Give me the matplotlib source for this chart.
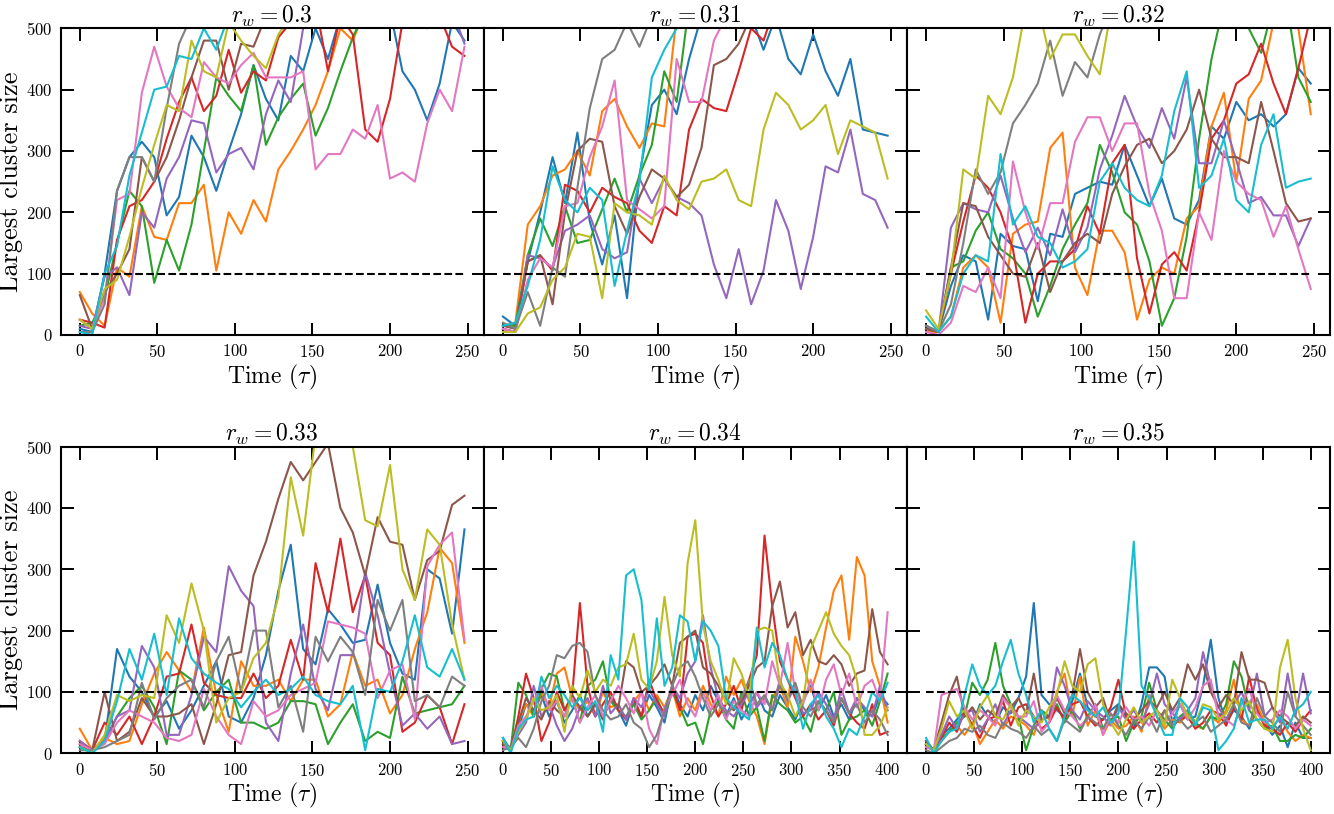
import numpy as np
import matplotlib
matplotlib.use('Agg')
import matplotlib.pyplot as plt
from matplotlib.ticker import MultipleLocator

plt.rcParams['font.family'] = 'serif'
plt.rcParams['font.serif'] = ['cmr10']
plt.rcParams['mathtext.fontset'] = 'cm'
plt.rcParams['axes.formatter.use_mathtext'] = True

# time grids (tau) for the short (250) and long (400) runs
t_short = np.arange(0, 249, 8)
t_long = np.arange(0, 401, 8)

# largest cluster size, 10 runs per r_w (clipped at 500 by the axes)
p030 = [
    [10, 5, 100, 235, 290, 315, 290, 195, 225, 325, 290, 235, 300, 360, 440, 385, 350, 455, 430, 500, 450, 520, 540, 560, 540, 530, 430, 400, 350, 410, 510, 480],
    [70, 35, 15, 110, 95, 210, 160, 155, 215, 215, 245, 105, 200, 165, 220, 185, 270, 300, 335, 375, 430, 500, 480, 530, 550, 560, 540, 550, 560, 540, 550, 560],
    [15, 20, 60, 150, 235, 210, 85, 155, 105, 180, 300, 420, 390, 365, 440, 310, 355, 385, 410, 325, 370, 430, 485, 530, 550, 560, 540, 560, 550, 560, 570, 560],
    [25, 20, 12, 155, 210, 220, 250, 320, 380, 420, 365, 390, 465, 395, 430, 415, 485, 510, 530, 540, 430, 520, 490, 335, 315, 385, 510, 530, 500, 520, 470, 455],
    [15, 10, 95, 110, 65, 200, 175, 255, 290, 350, 345, 265, 295, 305, 270, 360, 415, 380, 500, 530, 540, 550, 560, 540, 550, 560, 540, 550, 560, 540, 530, 475],
    [65, 10, 70, 100, 140, 290, 250, 290, 350, 420, 480, 480, 400, 475, 470, 520, 540, 550, 560, 540, 550, 560, 540, 550, 560, 540, 550, 560, 540, 550, 560, 540],
    [25, 10, 60, 220, 230, 395, 470, 405, 370, 355, 445, 420, 410, 440, 460, 420, 420, 420, 430, 270, 295, 295, 335, 320, 375, 255, 265, 250, 345, 400, 365, 470],
    [5, 5, 50, 235, 290, 290, 250, 370, 475, 520, 530, 540, 550, 560, 540, 550, 560, 540, 550, 560, 540, 550, 560, 540, 550, 560, 540, 550, 560, 540, 550, 560],
    [25, 10, 75, 90, 160, 240, 310, 375, 365, 480, 430, 420, 510, 480, 455, 435, 490, 520, 540, 550, 560, 540, 550, 560, 540, 550, 560, 540, 550, 560, 540, 550],
    [5, 0, 100, 145, 260, 330, 400, 405, 455, 450, 500, 465, 520, 540, 550, 560, 540, 550, 560, 540, 550, 560, 540, 550, 560, 540, 550, 560, 540, 550, 560, 540],
]
p031 = [
    [30, 15, 120, 200, 290, 215, 330, 185, 115, 195, 60, 260, 375, 400, 360, 450, 520, 540, 550, 540, 520, 465, 520, 450, 425, 490, 430, 390, 450, 335, 330, 325],
    [15, 20, 180, 210, 260, 270, 300, 260, 365, 385, 340, 305, 345, 340, 520, 540, 550, 560, 540, 550, 560, 540, 550, 560, 540, 550, 560, 540, 550, 560, 540, 550],
    [15, 15, 130, 190, 145, 210, 150, 155, 205, 255, 200, 260, 310, 430, 380, 540, 550, 560, 540, 550, 560, 540, 550, 560, 540, 550, 560, 540, 550, 560, 540, 550],
    [10, 5, 120, 130, 105, 245, 235, 200, 240, 225, 215, 170, 150, 210, 195, 335, 385, 370, 365, 430, 500, 480, 540, 550, 560, 540, 550, 560, 540, 550, 560, 540],
    [10, 5, 130, 125, 110, 170, 180, 195, 140, 125, 135, 255, 215, 255, 225, 215, 195, 115, 60, 140, 50, 105, 220, 170, 75, 160, 275, 265, 335, 230, 220, 175],
    [15, 10, 120, 130, 50, 200, 300, 320, 315, 210, 165, 225, 270, 255, 225, 245, 305, 440, 450, 475, 520, 540, 550, 560, 540, 550, 560, 540, 550, 560, 540, 550],
    [10, 5, 90, 125, 110, 210, 215, 290, 340, 415, 220, 205, 190, 210, 450, 380, 380, 480, 520, 540, 550, 560, 540, 550, 560, 540, 550, 560, 540, 550, 560, 540],
    [20, 10, 70, 15, 110, 95, 240, 370, 450, 465, 510, 470, 520, 540, 550, 560, 540, 550, 560, 540, 550, 560, 540, 550, 560, 540, 550, 560, 540, 550, 560, 540],
    [5, 5, 35, 45, 90, 110, 165, 160, 60, 215, 200, 195, 180, 260, 220, 205, 250, 255, 270, 220, 210, 335, 395, 375, 335, 350, 375, 295, 350, 340, 330, 255],
    [15, 20, 80, 155, 275, 220, 200, 240, 220, 80, 170, 250, 420, 465, 500, 540, 550, 560, 540, 550, 560, 540, 550, 560, 540, 550, 560, 540, 550, 560, 540, 550],
]
p032 = [
    [10, 5, 80, 130, 120, 25, 165, 145, 140, 55, 165, 160, 230, 240, 250, 245, 310, 260, 210, 255, 190, 180, 220, 340, 320, 380, 350, 360, 340, 360, 435, 410],
    [5, 5, 30, 110, 130, 110, 20, 165, 180, 185, 305, 330, 110, 65, 170, 170, 135, 25, 90, 110, 100, 190, 210, 340, 395, 250, 385, 415, 510, 540, 500, 360],
    [15, 5, 110, 120, 170, 200, 140, 125, 100, 30, 80, 140, 180, 215, 310, 265, 200, 180, 120, 15, 60, 160, 320, 450, 540, 550, 500, 460, 540, 550, 420, 380],
    [10, 5, 100, 185, 260, 240, 200, 140, 20, 100, 120, 120, 140, 210, 165, 280, 310, 125, 35, 115, 135, 105, 200, 320, 350, 410, 425, 475, 410, 360, 435, 520],
    [15, 5, 175, 215, 205, 200, 260, 190, 135, 175, 130, 205, 135, 175, 270, 325, 390, 340, 305, 370, 320, 420, 280, 280, 350, 285, 215, 225, 195, 195, 145, 190],
    [10, 5, 110, 215, 210, 160, 130, 100, 95, 150, 70, 120, 150, 165, 150, 230, 275, 310, 320, 280, 300, 335, 400, 320, 290, 290, 280, 380, 300, 215, 185, 190],
    [5, 0, 20, 80, 70, 110, 60, 283, 200, 140, 215, 215, 315, 355, 355, 300, 345, 345, 230, 170, 60, 60, 200, 155, 300, 250, 230, 220, 160, 210, 140, 75],
    [15, 5, 50, 150, 270, 230, 265, 345, 375, 410, 480, 390, 445, 420, 490, 540, 550, 560, 540, 550, 560, 540, 550, 560, 540, 550, 560, 540, 550, 560, 540, 550],
    [40, 10, 100, 270, 255, 390, 360, 420, 530, 540, 450, 490, 490, 455, 425, 540, 550, 560, 540, 550, 560, 540, 550, 560, 540, 550, 560, 540, 550, 560, 540, 550],
    [30, 5, 30, 100, 130, 120, 295, 180, 210, 160, 150, 110, 120, 140, 250, 280, 240, 220, 210, 260, 365, 430, 240, 260, 320, 220, 200, 310, 360, 240, 250, 255],
]
p033 = [
    [10, 5, 20, 170, 125, 100, 60, 85, 40, 70, 110, 150, 60, 50, 90, 160, 265, 340, 170, 145, 235, 210, 180, 185, 275, 180, 130, 120, 300, 285, 195, 365],
    [40, 5, 25, 15, 20, 80, 130, 165, 135, 100, 205, 95, 35, 150, 110, 110, 120, 85, 120, 120, 60, 80, 165, 110, 120, 65, 95, 170, 230, 335, 310, 180],
    [10, 5, 20, 60, 90, 110, 75, 15, 135, 120, 70, 100, 120, 50, 50, 40, 50, 85, 85, 80, 15, 50, 80, 20, 35, 25, 125, 65, 70, 75, 80, 110],
    [20, 5, 50, 30, 60, 15, 60, 125, 130, 210, 115, 95, 90, 90, 130, 90, 110, 185, 120, 310, 230, 350, 230, 290, 180, 160, 35, 50, 95, 75, 15, 80],
    [20, 5, 20, 60, 70, 175, 140, 30, 30, 95, 190, 165, 305, 265, 240, 50, 20, 130, 210, 105, 70, 160, 160, 295, 225, 130, 45, 65, 40, 60, 15, 20],
    [15, 5, 100, 20, 35, 90, 60, 60, 65, 80, 15, 80, 160, 165, 290, 345, 415, 475, 445, 475, 505, 400, 360, 290, 385, 345, 340, 250, 315, 330, 405, 420],
    [15, 5, 15, 50, 70, 60, 50, 25, 20, 30, 105, 60, 30, 15, 85, 60, 70, 95, 105, 115, 215, 210, 205, 195, 90, 135, 145, 55, 305, 340, 360, 185],
    [5, 5, 10, 20, 30, 115, 55, 90, 110, 120, 75, 150, 190, 100, 200, 200, 75, 110, 35, 190, 150, 190, 165, 95, 250, 200, 250, 85, 95, 75, 125, 110],
    [10, 0, 30, 95, 85, 95, 90, 225, 180, 277, 200, 50, 90, 100, 155, 180, 255, 450, 355, 520, 560, 540, 500, 380, 370, 470, 300, 250, 365, 340, 210, 120],
    [10, 0, 20, 85, 170, 120, 195, 95, 220, 155, 130, 115, 105, 75, 100, 120, 95, 105, 125, 95, 85, 80, 110, 5, 105, 100, 150, 225, 140, 125, 170, 120],
]
p034 = [
    [25, 5, 40, 80, 70, 95, 60, 85, 50, 70, 95, 60, 80, 55, 90, 70, 45, 85, 60, 95, 75, 50, 110, 80, 60, 95, 70, 110, 85, 60, 90, 55, 80, 100, 70, 60, 95, 75, 55, 85, 110, 70, 95, 60, 80, 55, 90, 70, 60, 95, 80],
    [15, 5, 50, 80, 60, 100, 75, 130, 140, 90, 70, 85, 60, 100, 75, 80, 55, 85, 100, 70, 95, 75, 105, 60, 90, 70, 110, 80, 60, 125, 95, 120, 85, 60, 15, 90, 110, 75, 190, 150, 100, 140, 205, 265, 290, 185, 320, 290, 150, 110, 50],
    [20, 5, 115, 95, 60, 105, 130, 125, 70, 90, 50, 110, 120, 150, 85, 70, 60, 80, 55, 70, 90, 60, 100, 75, 45, 50, 15, 70, 85, 55, 40, 100, 60, 75, 20, 95, 80, 70, 50, 60, 35, 85, 70, 100, 30, 55, 60, 70, 45, 85, 130],
    [20, 5, 60, 130, 90, 20, 50, 100, 70, 95, 245, 110, 60, 80, 100, 70, 55, 90, 60, 120, 85, 65, 110, 70, 190, 195, 180, 95, 60, 80, 110, 70, 120, 160, 355, 240, 150, 120, 90, 60, 80, 55, 70, 45, 90, 65, 50, 40, 80, 30, 35],
    [10, 5, 30, 50, 110, 60, 80, 45, 20, 40, 75, 90, 60, 110, 65, 80, 55, 90, 75, 105, 80, 60, 110, 90, 130, 150, 225, 140, 90, 70, 60, 80, 100, 75, 90, 70, 120, 85, 110, 65, 70, 100, 80, 55, 105, 65, 90, 75, 60, 110, 70],
    [15, 10, 50, 90, 70, 55, 85, 70, 60, 95, 75, 60, 80, 55, 90, 75, 150, 140, 100, 110, 125, 145, 110, 180, 190, 200, 140, 130, 110, 85, 70, 85, 110, 140, 150, 240, 280, 205, 230, 160, 185, 150, 145, 160, 145, 110, 130, 135, 235, 165, 145],
    [10, 5, 45, 60, 85, 110, 70, 85, 60, 90, 50, 75, 95, 60, 85, 110, 90, 65, 100, 40, 15, 75, 95, 120, 80, 60, 100, 70, 95, 55, 85, 70, 60, 100, 80, 150, 110, 180, 100, 80, 120, 70, 120, 145, 95, 130, 75, 110, 120, 85, 230],
    [5, 10, 25, 10, 40, 85, 110, 160, 155, 175, 180, 165, 95, 70, 55, 60, 80, 50, 40, 10, 30, 70, 110, 140, 150, 125, 90, 60, 80, 65, 75, 90, 120, 80, 95, 70, 110, 90, 115, 75, 60, 85, 70, 50, 90, 65, 80, 50, 70, 55, 30],
    [20, 5, 35, 55, 90, 70, 75, 95, 35, 110, 90, 135, 100, 120, 110, 140, 145, 195, 120, 105, 150, 255, 160, 125, 310, 380, 210, 150, 120, 80, 155, 130, 90, 200, 205, 200, 115, 95, 60, 85, 170, 200, 230, 195, 175, 160, 120, 30, 30, 45, 75],
    [25, 0, 40, 55, 60, 125, 90, 110, 95, 75, 90, 70, 85, 35, 160, 120, 290, 300, 250, 100, 220, 110, 140, 225, 215, 150, 215, 200, 175, 90, 75, 65, 55, 205, 140, 180, 160, 120, 100, 40, 80, 95, 60, 40, 10, 40, 30, 60, 100, 85, 115],
]
p035 = [
    [20, 5, 30, 40, 55, 70, 45, 80, 60, 50, 75, 65, 90, 125, 245, 95, 80, 70, 60, 85, 130, 75, 60, 55, 70, 80, 60, 40, 80, 140, 140, 125, 50, 80, 55, 60, 110, 185, 90, 50, 70, 60, 40, 75, 50, 30, 45, 10, 50, 25, 25],
    [10, 5, 20, 35, 45, 30, 50, 15, 35, 55, 40, 60, 55, 45, 30, 70, 55, 100, 130, 60, 125, 45, 70, 30, 55, 40, 45, 60, 35, 95, 60, 40, 55, 50, 65, 45, 40, 60, 50, 70, 120, 55, 45, 80, 50, 40, 60, 35, 20, 30, 25],
    [15, 5, 25, 35, 50, 60, 115, 95, 120, 180, 110, 80, 60, 5, 45, 70, 60, 80, 50, 70, 40, 60, 80, 40, 55, 60, 20, 50, 60, 115, 70, 55, 40, 60, 70, 50, 40, 60, 55, 80, 150, 125, 70, 55, 40, 45, 20, 20, 30, 25, 40],
    [15, 5, 25, 50, 35, 70, 45, 25, 55, 60, 85, 45, 75, 80, 60, 40, 50, 75, 55, 80, 85, 60, 45, 55, 75, 120, 60, 40, 55, 65, 50, 70, 45, 55, 60, 40, 50, 70, 65, 45, 75, 55, 125, 70, 45, 40, 30, 50, 35, 55, 70],
    [15, 5, 30, 60, 40, 65, 70, 35, 55, 80, 45, 70, 60, 50, 40, 55, 60, 140, 110, 70, 55, 85, 70, 60, 45, 75, 55, 70, 50, 80, 130, 80, 65, 55, 70, 90, 165, 110, 75, 55, 80, 100, 70, 130, 60, 75, 50, 130, 60, 130, 65],
    [20, 5, 50, 95, 125, 60, 75, 55, 70, 60, 95, 75, 90, 65, 130, 55, 60, 90, 65, 95, 170, 100, 75, 90, 50, 80, 65, 55, 70, 85, 75, 100, 70, 90, 145, 120, 145, 100, 75, 95, 80, 165, 120, 120, 115, 75, 60, 50, 45, 60, 50],
    [10, 5, 95, 100, 105, 75, 55, 70, 60, 45, 90, 75, 60, 60, 85, 35, 50, 95, 70, 60, 45, 55, 80, 30, 65, 50, 75, 55, 60, 45, 70, 50, 65, 80, 55, 75, 110, 120, 60, 55, 45, 80, 105, 65, 50, 55, 70, 60, 40, 55, 45],
    [5, 0, 10, 20, 25, 40, 35, 45, 30, 25, 50, 40, 35, 25, 45, 30, 40, 20, 55, 45, 35, 60, 50, 40, 65, 45, 30, 55, 40, 60, 35, 70, 45, 55, 40, 50, 60, 35, 45, 55, 80, 50, 45, 90, 60, 50, 35, 100, 60, 45, 30],
    [15, 5, 40, 85, 60, 70, 40, 75, 95, 60, 55, 80, 45, 70, 60, 50, 75, 95, 150, 110, 100, 145, 155, 80, 50, 30, 55, 75, 50, 60, 70, 45, 120, 90, 60, 50, 80, 75, 55, 65, 90, 70, 85, 55, 40, 35, 140, 185, 90, 40, 5],
    [25, 0, 20, 35, 40, 95, 145, 110, 95, 110, 150, 185, 130, 95, 50, 70, 40, 20, 60, 95, 85, 70, 60, 75, 50, 65, 200, 345, 110, 90, 60, 30, 30, 90, 75, 45, 75, 70, 5, 20, 40, 90, 50, 55, 55, 40, 60, 40, 70, 80, 100],
]

panels = [('0.3', t_short, p030), ('0.31', t_short, p031), ('0.32', t_short, p032),
          ('0.33', t_short, p033), ('0.34', t_long, p034), ('0.35', t_long, p035)]

fig, axes = plt.subplots(2, 3, figsize=(13.34, 8.14), dpi=100)
plt.subplots_adjust(left=0.0454, right=0.997, bottom=0.0746, top=0.9652,
                    wspace=0, hspace=0.364)

for k, (ax, (rw, t, runs)) in enumerate(zip(axes.flat, panels)):
    for run in runs:
        ax.plot(t, run, lw=1.5)
    ax.plot([t[0], t[-1]], [100, 100], 'k--', lw=1.5)
    ax.set_ylim(0, 500)
    ax.xaxis.set_major_locator(MultipleLocator(50))
    ax.yaxis.set_major_locator(MultipleLocator(100))
    ax.tick_params(direction='in', top=True, right=True, length=9, width=1.4,
                   labelsize=12, pad=6)
    for sp in ax.spines.values():
        sp.set_linewidth(1.5)
    ax.set_title(r'$r_w = %s$' % rw, fontsize=17, pad=4)
    ax.set_xlabel(r'Time ($\tau$)', fontsize=17, labelpad=2)
    if k % 3 == 0:
        ax.set_ylabel('Largest cluster size', fontsize=19, labelpad=2)
    else:
        ax.set_yticklabels([])

plt.savefig('out.png', dpi=100)
